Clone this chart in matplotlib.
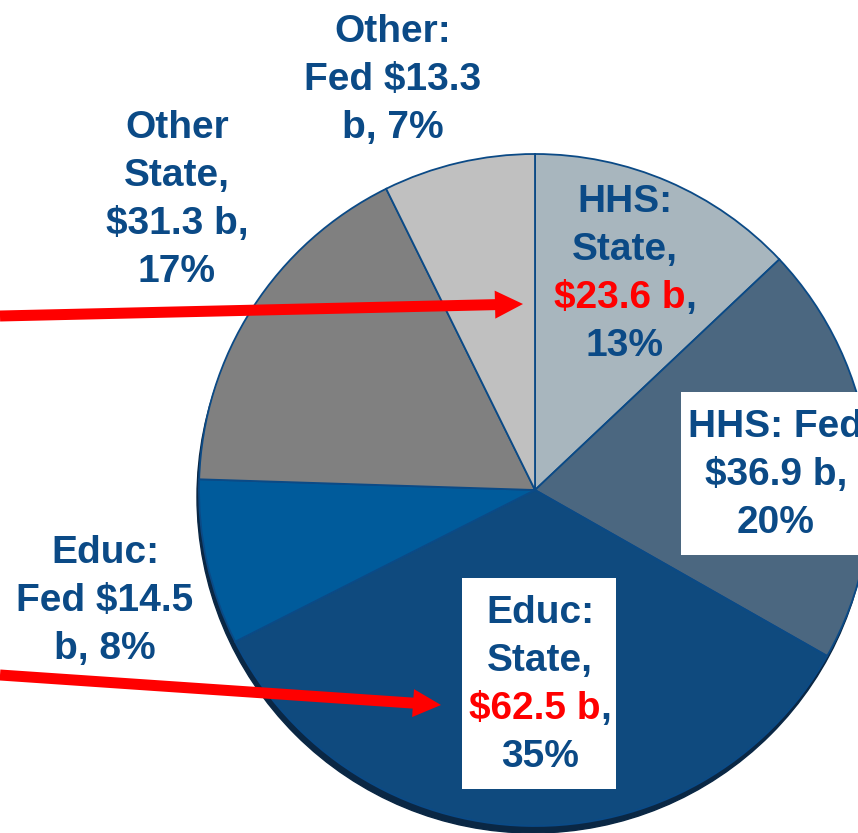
import matplotlib
matplotlib.use('Agg')
from matplotlib import pyplot as plt
from matplotlib.patches import Circle, Rectangle

W, H = 858, 833

# slice order: clockwise from 12 o'clock
categories = ['HHS: State', 'HHS: Fed', 'Educ: State', 'Educ: Fed', 'Other State', 'Other: Fed']
amounts = [23.6, 36.9, 62.5, 14.5, 31.3, 13.3]   # $ billions
percents = [13, 20, 35, 8, 17, 7]
colors = ['#a8b6be', '#4b6780', '#0f4a7e', '#005b9b', '#808080', '#c0c0c0']

label_lines = [
    ['HHS:', 'State,', '$23.6 b,', '13%'],
    ['HHS: Fed', '$36.9 b,', '20%'],
    ['Educ:', 'State,', '$62.5 b,', '35%'],
    ['Educ:', 'Fed $14.5', 'b, 8%'],
    ['Other', 'State,', '$31.3 b,', '17%'],
    ['Other:', 'Fed $13.3', 'b, 7%'],
]
red_parts = ['$23.6 b', None, '$62.5 b', None, None, None]

# layout (pixels from top-left)
lbl_x = [625, 776, 540, 105, 177, 393]
lbl_top = [212, 437, 623, 563, 138, 42]
line_step = 48

TEXT_BLUE = '#0b4a86'
RED = '#ff0000'

plt.rcParams['font.family'] = ['Liberation Sans', 'DejaVu Sans']
plt.rcParams['font.weight'] = 'bold'


def py(y):
    return H - y


fig = plt.figure(figsize=(W / 100, H / 100), dpi=100)
ax = fig.add_axes([0, 0, 1, 1])

cx, cy, r = 535, py(490), 336

# drop shadow under the pie
ax.add_patch(Circle((cx - 2, cy - 7), r, color='#0a2744', zorder=0))
ax.pie(amounts, colors=colors, startangle=90, counterclock=False,
       center=(cx, cy), radius=r, frame=True,
       wedgeprops=dict(edgecolor=TEXT_BLUE, linewidth=1.3, zorder=1))

ax.set_xlim(0, W)
ax.set_ylim(0, H)
ax.axis('off')

# white boxes behind two labels
ax.add_patch(Rectangle((681, py(555)), 200, 163, fc='white', ec='none', zorder=3))
ax.add_patch(Rectangle((462, py(789)), 154, 211, fc='white', ec='none', zorder=3))

# red arrows
ax.arrow(0, py(316), 523, -(304 - 316), width=11, head_width=28, head_length=28,
         length_includes_head=True, fc=RED, ec='none', zorder=4)
ax.arrow(0, py(675), 441, -(705 - 675), width=11, head_width=28, head_length=28,
         length_includes_head=True, fc=RED, ec='none', zorder=4)

fs = 28
fig.canvas.draw()
for i, lines in enumerate(label_lines):
    for j, line in enumerate(lines):
        y = py(lbl_top[i] + j * line_step)
        red = red_parts[i]
        if red and line.startswith(red):
            rest = line[len(red):]
            t = ax.text(lbl_x[i] - 5, y, red, color=RED, fontsize=fs, ha='center',
                        va='baseline', parse_math=False, zorder=5)
            ax.annotate(rest, xy=(1, 0), xycoords=t, ha='left', va='bottom',
                        color=TEXT_BLUE, fontsize=fs, parse_math=False, zorder=5)
        else:
            ax.text(lbl_x[i], y, line, color=TEXT_BLUE, fontsize=fs, ha='center',
                    va='baseline', parse_math=False, zorder=5)

fig.savefig('out.png', dpi=100)
